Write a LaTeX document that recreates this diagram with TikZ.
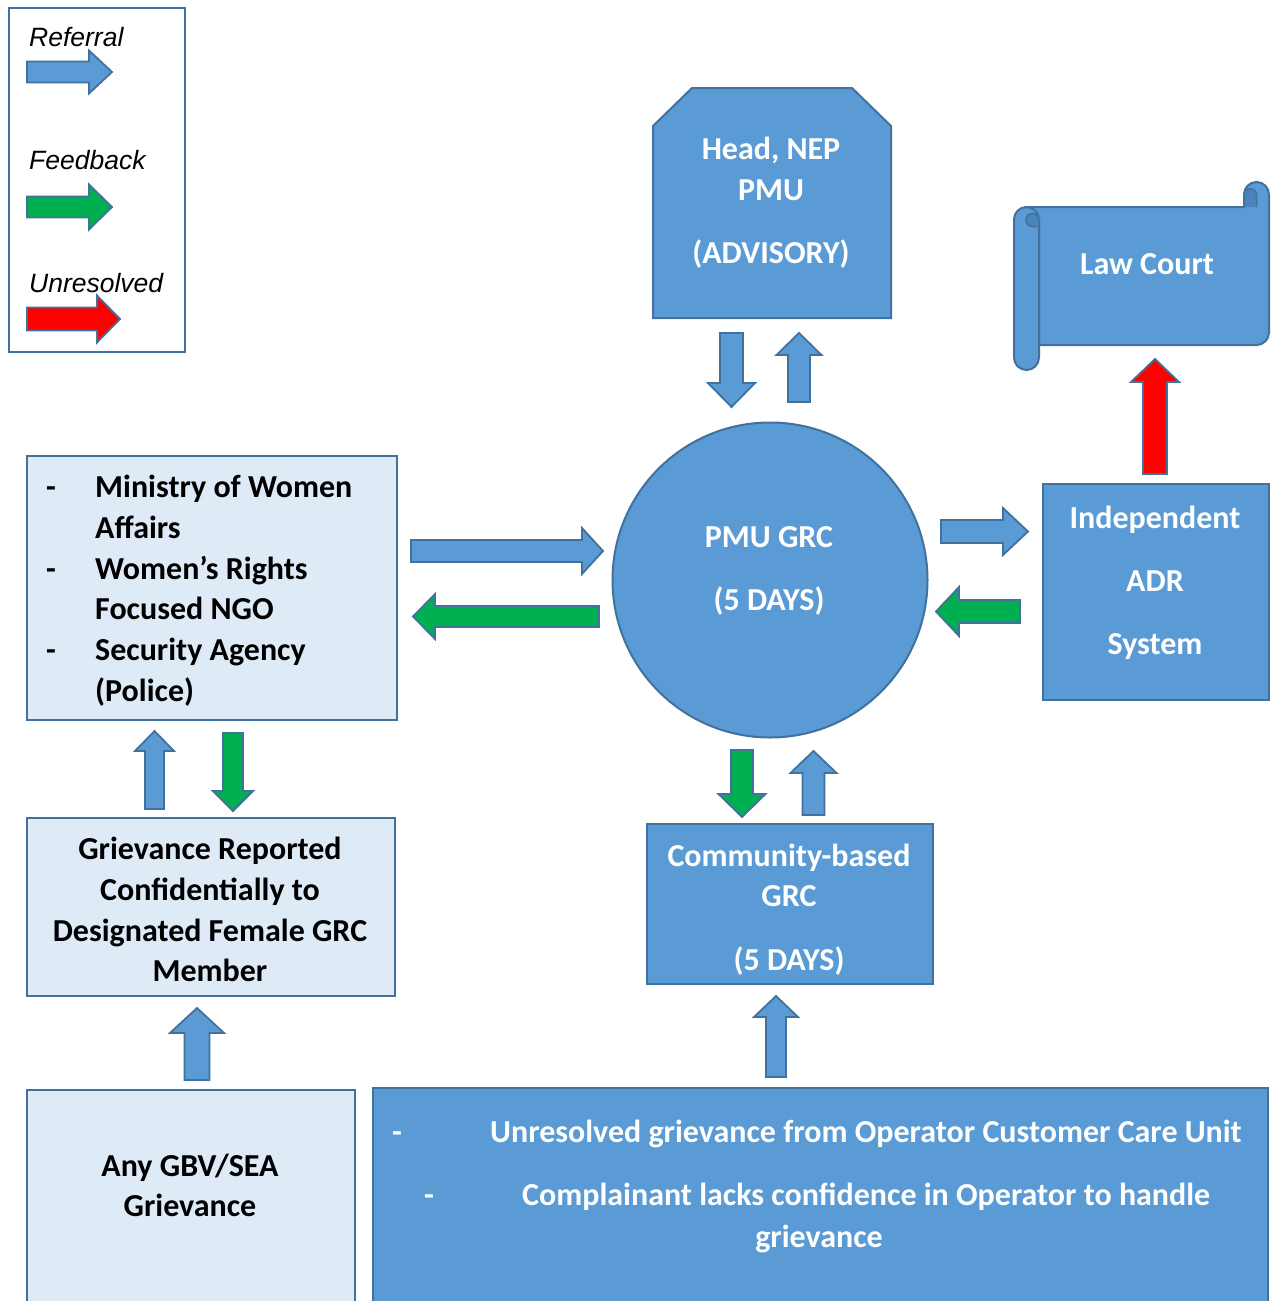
\documentclass[tikz,border=0pt]{standalone}
\usepackage{fontspec}
\setmainfont{Carlito}
\newfontfamily\legfont{Liberation Sans}
\definecolor{mblue}{HTML}{5B9BD5}
\definecolor{edge}{HTML}{41719C}
\definecolor{light}{HTML}{DEEBF7}
\definecolor{mgreen}{HTML}{00B050}
\definecolor{mred}{HTML}{FF0000}
\definecolor{dkroll}{HTML}{4A84BA}
\newcommand\arrH[7]{\draw[arr,fill=#1] (#2,{#5-#6}) -- (#3,{#5-#6}) -- (#3,{#5-#7}) -- (#4,#5) -- (#3,{#5+#7}) -- (#3,{#5+#6}) -- (#2,{#5+#6}) -- cycle;}
\newcommand\arrV[7]{\draw[arr,fill=#1] ({#5-#6},#2) -- ({#5-#6},#3) -- ({#5-#7},#3) -- (#5,#4) -- ({#5+#7},#3) -- ({#5+#6},#3) -- ({#5+#6},#2) -- cycle;}
\begin{document}
\begin{tikzpicture}[x=1pt,y=-1pt,
  arr/.style={draw=edge,line width=1.8pt,line join=miter},
  bluebox/.style={draw=edge,fill=mblue,line width=2pt,inner sep=0,rectangle},
  lightbox/.style={draw=edge,fill=light,line width=2pt,inner sep=0,rectangle},
  wt/.style={text=white,anchor=base,inner sep=0,font=\fontsize{32}{38}\selectfont\bfseries},
  bt/.style={text=black,anchor=base,inner sep=0,font=\fontsize{32}{38}\selectfont\bfseries},
  lt/.style={text=black,anchor=base west,inner sep=0,font=\legfont\itshape\fontsize{26.5}{30}\selectfont}]
\useasboundingbox (0,0) rectangle (1270,1301);
\clip (0,0) rectangle (1270,1301);
% legend
\node[draw=edge,fill=white,line width=2pt,minimum width=176pt,minimum height=344pt,inner sep=0] (legend) at (97,180) {};
\node[lt] (lref) at (29,46) {Referral};
\node[lt] (lfb) at (29,169) {Feedback};
\node[lt] (lun) at (29,292) {Unresolved};
\arrH{mblue}{27}{89}{112}{72}{10.5}{21.5}
\arrH{mgreen}{27}{89}{112}{207}{10.5}{22.5}
\arrH{mred}{27}{97}{120}{319}{11.5}{23.5}
% head NEP
\draw[bluebox] (653,318) -- (653,126) -- (692,88) -- (852,88) -- (891,126) -- (891,318) -- cycle;
\coordinate (head) at (772,203);
\node[wt] (h1) at (771,159) {Head, NEP};
\node[wt] (h2) at (771,200) {PMU};
\node[wt] (h3) at (771,263) {(ADVISORY)};
\arrV{mblue}{333}{383}{407}{731.5}{11.5}{23.5}
\arrV{mblue}{402}{355}{333}{799}{11}{22.5}
% law court scroll
\draw[bluebox] (1026.5,207) -- (1244,207) -- (1244,194.5) arc (180:360:12.5) -- (1269,332.5) arc (0:90:12.5) -- (1039,345) -- (1039,220) -- cycle;
\fill[dkroll] (1244,194.5) -- (1244,207) -- (1256.5,207) -- (1256.5,195) arc (0:-180:6.25) -- cycle;
\draw[edge,line width=2pt] (1244,207) -- (1244,194.5);
\draw[edge,line width=1.5pt] (1256.5,207) -- (1256.5,195) arc (0:-180:6.25);
\draw[bluebox] (1014,219.5) arc (180:360:12.5) -- (1039,357.5) arc (0:180:12.5) -- cycle;
\fill[dkroll] (1032.5,220) circle (6.5);
\draw[edge,line width=1.5pt] (1026,220) arc (180:360:6.5);
\draw[edge,line width=1.5pt] (1026,220) arc (180:90:6.5) -- (1039,226.5);
\coordinate (law) at (1147,275);
\node[wt] (lawt) at (1147,274) {Law Court};
\arrV{mred}{474}{382}{359}{1155}{12}{24}
% circle
\node[circle,draw=edge,fill=mblue,line width=2pt,minimum size=315pt,inner sep=0] (pmu) at (770,580) {};
\node[wt] (p1) at (769,547) {PMU GRC};
\node[wt] (p2) at (769,610) {(5 DAYS)};
% ADR
\node[bluebox,minimum width=226pt,minimum height=216pt] (adr) at (1156,592) {};
\node[wt] (a1) at (1155,528) {Independent};
\node[wt] (a2) at (1155,591) {ADR};
\node[wt] (a3) at (1155,654) {System};
\arrH{mblue}{941}{1003}{1028}{531.5}{11.5}{23.5}
\arrH{mgreen}{1020}{959}{936}{611.5}{11.5}{24.5}
% left top box
\node[lightbox,minimum width=370pt,minimum height=264pt] (agencies) at (212,588) {};
\node[bt,anchor=base west] (g1) at (95,497) {Ministry of Women};
\node[bt,anchor=base west] (g2) at (95,538) {Affairs};
\node[bt,anchor=base west] (g3) at (95,579) {Women’s Rights};
\node[bt,anchor=base west] (g4) at (95,619) {Focused NGO};
\node[bt,anchor=base west] (g5) at (95,660) {Security Agency};
\node[bt,anchor=base west] (g6) at (95,701) {(Police)};
\node[bt] (d1) at (51,497) {-};
\node[bt] (d2) at (51,579) {-};
\node[bt] (d3) at (51,660) {-};
\arrH{mblue}{411}{582}{603}{551}{11}{23}
\arrH{mgreen}{599}{435}{413}{616.5}{10.5}{22.5}
% left middle box
\node[lightbox,minimum width=368pt,minimum height=178pt] (female) at (211,907) {};
\node[bt] (f1) at (210,859) {Grievance Reported};
\node[bt] (f2) at (210,900) {Confidentially to};
\node[bt] (f3) at (210,941) {Designated Female GRC};
\node[bt] (f4) at (210,981) {Member};
\arrV{mblue}{809}{751}{731}{154.5}{9.5}{19.5}
\arrV{mgreen}{733}{791}{811}{233}{10}{20}
% GBV box
\node[lightbox,minimum width=328pt,minimum height=230pt] (gbv) at (191,1205) {};
\node[bt] (b1) at (190,1176) {Any GBV/SEA};
\node[bt] (b2) at (190,1216) {Grievance};
\arrV{mblue}{1080}{1033}{1008}{197}{12.5}{27}
% community box
\node[bluebox,minimum width=286pt,minimum height=160pt] (comm) at (790,904) {};
\node[wt] (c1) at (789,866) {Community-based};
\node[wt] (c2) at (789,906) {GRC};
\node[wt] (c3) at (789,970) {(5 DAYS)};
\arrV{mgreen}{750}{794}{817}{742}{11}{23.5}
\arrV{mblue}{815}{773}{751}{813.5}{11}{23}
% bottom box
\node[bluebox,minimum width=895pt,minimum height=232pt] (unres) at (820.5,1204) {};
\node[wt] (u0) at (397,1142) {-};
\node[wt,anchor=base west] (u1) at (490,1142) {Unresolved grievance from Operator Customer Care Unit};
\node[wt] (u2) at (429,1205) {-};
\node[wt,anchor=base west] (u3) at (522,1205) {Complainant lacks confidence in Operator to handle};
\node[wt] (u4) at (819,1247) {grievance};
\arrV{mblue}{1077}{1017}{996}{776}{10}{22}
\end{tikzpicture}
\end{document}
